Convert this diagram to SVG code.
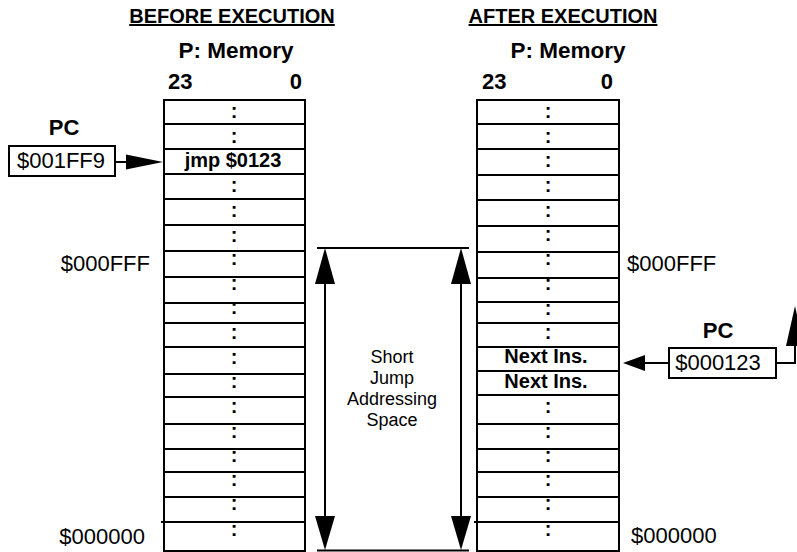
<svg xmlns="http://www.w3.org/2000/svg" width="797" height="552" viewBox="0 0 797 552">
<style>
text{font-family:"Liberation Sans",Arial,sans-serif;fill:#000}
.h{font-size:20px;font-weight:bold;text-anchor:middle;text-decoration:underline}
.t{font-size:22px;font-weight:bold}
.m{font-size:22.5px;font-weight:bold;text-anchor:middle}
.c{font-size:20px;font-weight:bold;text-anchor:middle}
.r{font-size:22px}
.s{font-size:18px;text-anchor:middle}
.ln{stroke:#000;stroke-width:2;fill:none}
.box{stroke:#000;stroke-width:2;fill:#fff}
.ah{fill:#000;stroke:none}
</style>
<rect width="797" height="552" fill="#fff"/>
<g id="heading-before">
<text class="h" x="232" y="23">BEFORE EXECUTION</text>
<text class="m" x="236" y="58">P: Memory</text>
<text class="t" x="168" y="89">23</text>
<text class="t" x="302" y="89" text-anchor="end">0</text>
</g>
<g id="heading-after">
<text class="h" x="563" y="23">AFTER EXECUTION</text>
<text class="m" x="568" y="58">P: Memory</text>
<text class="t" x="482" y="89">23</text>
<text class="t" x="613" y="89" text-anchor="end">0</text>
</g>
<g id="memory-before">
<rect class="box" x="164" y="100" width="141" height="451"/>
<path class="ln" d="M164 124H305M164 149H305M164 174H305M164 199H305M164 225H305M164 251H305M164 277H305M164 303H305M164 323H305M164 347H305M164 374H305M164 397H305M164 424H305M164 449H305M164 472H305M164 497H305M161 522H305"/>
<text class="c" x="234" y="118">:</text>
<text class="c" x="234" y="143">:</text>
<text class="c" x="233" y="167">jmp $0123</text>
<text class="c" x="234" y="191.5">:</text>
<text class="c" x="234" y="217">:</text>
<text class="c" x="234" y="241.5">:</text>
<text class="c" x="234" y="264.5">:</text>
<text class="c" x="234" y="289.5">:</text>
<text class="c" x="234" y="313.5">:</text>
<text class="c" x="234" y="338.5">:</text>
<text class="c" x="234" y="363.5">:</text>
<text class="c" x="234" y="387.5">:</text>
<text class="c" x="234" y="412.5">:</text>
<text class="c" x="234" y="437.5">:</text>
<text class="c" x="234" y="461.5">:</text>
<text class="c" x="234" y="485.5">:</text>
<text class="c" x="234" y="509.5">:</text>
<text class="c" x="234" y="535.5">:</text>
</g>
<g id="memory-after">
<rect class="box" x="477" y="100" width="142" height="451"/>
<path class="ln" d="M477 124H619M477 149H619M477 175H619M477 200H619M477 226H619M477 252H619M477 278H619M477 302H619M477 323H619M477 347H619M477 371H619M477 395H619M477 424H619M477 449H619M477 472H619M477 497H619M474 522H619"/>
<text class="c" x="548" y="117.5">:</text>
<text class="c" x="548" y="142.5">:</text>
<text class="c" x="548" y="166.5">:</text>
<text class="c" x="548" y="191.5">:</text>
<text class="c" x="548" y="216.5">:</text>
<text class="c" x="548" y="240.5">:</text>
<text class="c" x="548" y="265">:</text>
<text class="c" x="548" y="289.5">:</text>
<text class="c" x="548" y="314.5">:</text>
<text class="c" x="548" y="338.5">:</text>
<text class="c" x="546" y="363">Next Ins.</text>
<text class="c" x="546" y="388">Next Ins.</text>
<text class="c" x="548" y="412.5">:</text>
<text class="c" x="548" y="437.5">:</text>
<text class="c" x="548" y="461.5">:</text>
<text class="c" x="548" y="485.5">:</text>
<text class="c" x="548" y="509.5">:</text>
<text class="c" x="548" y="535.5">:</text>
</g>
<g id="addr-labels">
<text class="r" x="150" y="271" text-anchor="end">$000FFF</text>
<text class="r" x="145" y="544" text-anchor="end">$000000</text>
<text class="r" x="627" y="271">$000FFF</text>
<text class="r" x="631" y="543">$000000</text>
</g>
<g id="pc-before">
<text class="t" x="64" y="135" text-anchor="middle">PC</text>
<rect class="box" x="9" y="146" width="106" height="30"/>
<text class="r" x="61" y="168" text-anchor="middle">$001FF9</text>
</g>
<g id="pc-after">
<text class="t" x="718" y="338" text-anchor="middle">PC</text>
<rect class="box" x="669" y="348" width="107" height="30"/>
<text class="r" x="718" y="370" text-anchor="middle">$000123</text>
</g>
<g id="short-jump-label">
<text class="s" x="392" y="363">Short</text>
<text class="s" x="392" y="384">Jump</text>
<text class="s" x="392" y="405">Addressing</text>
<text class="s" x="392" y="426">Space</text>
</g>
<g id="connectors">
<path class="ln" d="M115 162H127"/>
<polygon class="ah" points="126,154.5 163,162 126,169.5"/>
<path class="ln" d="M669 363H644"/>
<polygon class="ah" points="645,355 623,363 645,371"/>
<path class="ln" d="M776 363H795V344"/>
<polygon class="ah" points="786,346 795,306 804,346"/>
<path class="ln" d="M317 248H469M317 550.5H469"/>
<path class="ln" d="M325 282V518M461 282V518"/>
<polygon class="ah" points="325,248 315,284 335,284"/>
<polygon class="ah" points="461,248 451,284 471,284"/>
<polygon class="ah" points="315,516 335,516 325,550"/>
<polygon class="ah" points="451,516 471,516 461,550"/>
</g>
</svg>
